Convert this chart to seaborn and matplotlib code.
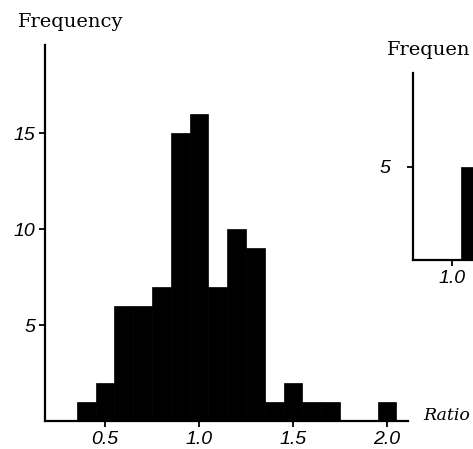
import matplotlib
matplotlib.use("Agg")
import matplotlib.pyplot as plt
import seaborn as sns
import pandas as pd

# main histogram: bin centres (ratio) and frequencies
ratio_bins = [0.4, 0.5, 0.6, 0.7, 0.8, 0.9, 1.0, 1.1, 1.2, 1.3, 1.4, 1.5, 1.6, 1.7, 1.8, 1.9, 2.0]
frequency = [1, 2, 6, 6, 7, 15, 16, 7, 10, 9, 1, 2, 1, 1, 0, 0, 1]
bin_edges = [0.35, 0.45, 0.55, 0.65, 0.75, 0.85, 0.95, 1.05, 1.15, 1.25, 1.35,
             1.45, 1.55, 1.65, 1.75, 1.85, 1.95, 2.05]
x_ticks = [0.5, 1.0, 1.5, 2.0]
x_ticklabels = ["0.5", "1.0", "1.5", "2.0"]
y_ticks = [5, 10, 15]
y_ticklabels = ["5", "10", "15"]

# second (cropped) panel
inset_bins = [1.1]
inset_frequency = [5]
inset_edges = [1.05, 1.15]
inset_x_ticks = [1.0]
inset_x_ticklabels = ["1.0"]
inset_y_ticks = [5]
inset_y_ticklabels = ["5"]

sns.set_style("white")
plt.rcParams["font.family"] = ["DejaVu Serif"]
plt.rcParams["text.color"] = "black"
plt.rcParams["xtick.color"] = "black"
plt.rcParams["ytick.color"] = "black"
plt.rcParams["axes.labelcolor"] = "black"

W, H = 473, 449
fig = plt.figure(figsize=(W / 100, H / 100), dpi=100)

tick_font = dict(family="Liberation Sans", style="italic", size=14, color="black")

def setup(ax, pad_y=3):
    for s in ["top", "right"]:
        ax.spines[s].set_visible(False)
    for s in ["left", "bottom"]:
        ax.spines[s].set_linewidth(1.6)
        ax.spines[s].set_color("black")
    ax.tick_params(axis="x", direction="out", length=4, width=1.3,
                   color="black", pad=3, bottom=True)
    ax.tick_params(axis="y", direction="out", length=4, width=1.3,
                   color="black", pad=pad_y, left=True)

# main axes
ax = fig.add_axes([45 / W, 1 - 421 / H, (408 - 45) / W, (421 - 45) / H])
df = pd.DataFrame({"ratio": ratio_bins, "freq": frequency})
sns.histplot(data=df, x="ratio", weights="freq", bins=bin_edges, color="black",
             alpha=1, edgecolor="black", linewidth=0.5, ax=ax)
ax.set_xlim(0.181, 2.112)
ax.set_ylim(0, 19.6)
setup(ax)
ax.set_xticks(x_ticks)
ax.set_xticklabels(x_ticklabels, **tick_font)
ax.set_yticks(y_ticks)
ax.set_yticklabels(y_ticklabels, **tick_font)
ax.set_xlabel("")
ax.set_ylabel("")

# cropped second panel
ax2 = fig.add_axes([413 / W, 1 - 260 / H, 0.3, (260 - 73) / H])
df2 = pd.DataFrame({"ratio": inset_bins, "freq": inset_frequency})
sns.histplot(data=df2, x="ratio", weights="freq", bins=inset_edges, color="black",
             alpha=1, edgecolor="black", linewidth=0.5, ax=ax2)
ax2.set_xlim(0.793, 0.793 + 0.3 * W / 188)
ax2.set_ylim(0, 10.05)
setup(ax2, pad_y=12)
ax2.set_xticks(inset_x_ticks)
ax2.set_xticklabels(inset_x_ticklabels, **tick_font)
ax2.set_yticks(inset_y_ticks)
ax2.set_yticklabels(inset_y_ticklabels, **tick_font)
ax2.set_xlabel("")
ax2.set_ylabel("")

fig.text(18 / W, 1 - 22 / H, "Frequency", family="DejaVu Serif", size=14,
         ha="left", va="center")
fig.text(387 / W, 1 - 50 / H, "Frequen", family="DejaVu Serif", size=14,
         ha="left", va="center")
fig.text(423 / W, 1 - 415 / H, "Ratio", family="DejaVu Serif", style="italic",
         size=12.5, ha="left", va="center")

fig.savefig("out.png", dpi=100)
